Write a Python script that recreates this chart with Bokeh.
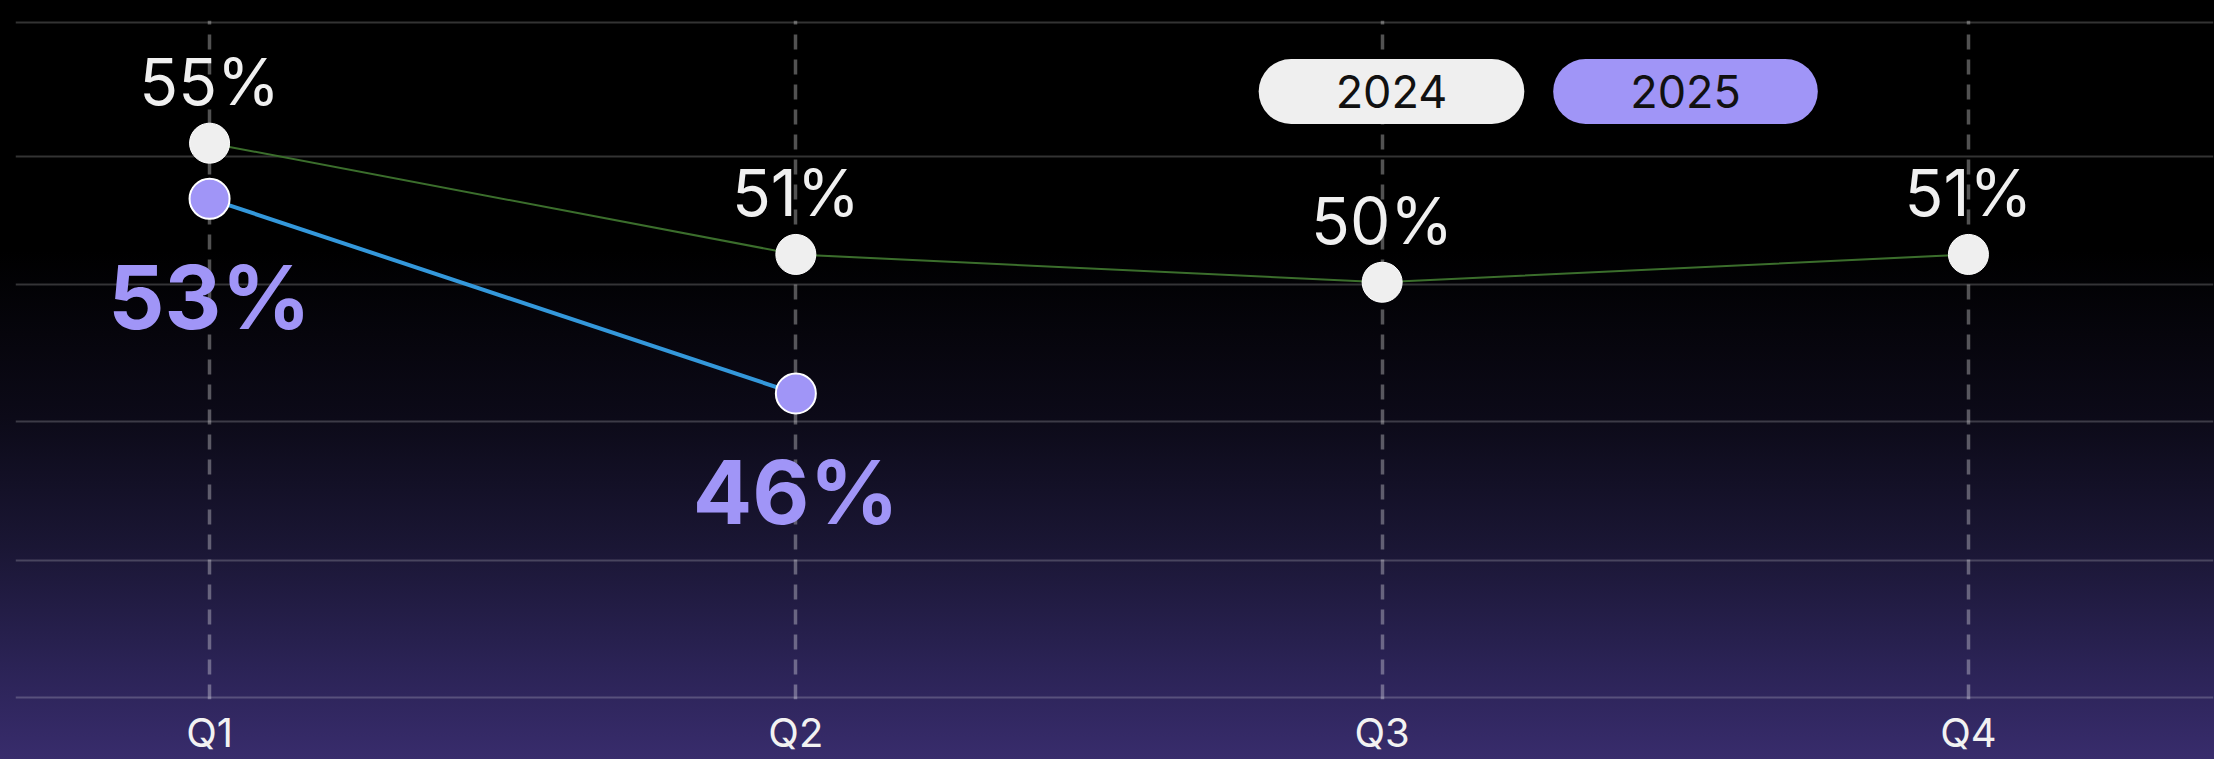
from bokeh.plotting import figure
from bokeh.models import Range1d, FixedTicker, Label
from bokeh.core.properties import value
from bokeh.embed import file_html
from bokeh.resources import INLINE

# ---- data ----
quarters = ["Q1", "Q2", "Q3", "Q4"]
series_2024 = [55, 51, 50, 51]
series_2025 = [53, 46]
labels_2024 = [f"{v}%" for v in series_2024]
labels_2025 = [f"{v}%" for v in series_2025]
grid_values = [35.06, 40.0, 44.98, 49.93, 54.52, 59.33]
legend_names = ["2024", "2025"]

x24 = list(range(len(series_2024)))
x25 = list(range(len(series_2025)))

WHITE = "#efefef"
PURPLE = "#a095f7"

gradient = ("linear-gradient(to bottom, #000000 0%, #000000 33%, #0c0a18 55%, "
            "#1a1634 72%, #2b2356 88%, #382c6c 100%)")

p = figure(width=2214, height=759, output_backend="svg", toolbar_location=None,
           x_range=Range1d(-0.331, 3.418), y_range=Range1d(35.0, 59.41),
           min_border_left=15, min_border_right=1, min_border_top=20,
           min_border_bottom=59,
           background_fill_color=None, border_fill_color=None,
           outline_line_color=None,
           styles={"position": "fixed", "top": "0px", "left": "0px",
                   "background": gradient})

p.yaxis.visible = False
p.ygrid.ticker = FixedTicker(ticks=grid_values)
p.ygrid.grid_line_color = "#ffffff"
p.ygrid.grid_line_alpha = 0.2
p.ygrid.grid_line_width = 2

p.xaxis.ticker = FixedTicker(ticks=x24)
p.xaxis.major_label_overrides = {i: q for i, q in enumerate(quarters)}
p.xaxis.major_label_text_font = "Inter"
p.xaxis.major_label_text_font_size = "40px"
p.xaxis.major_label_text_color = "#f2f2f2"
p.xaxis.axis_line_color = None
p.xaxis.major_tick_line_color = None
p.xaxis.minor_tick_line_color = None
p.xaxis.major_tick_out = 0
p.xaxis.major_tick_in = 0
p.xaxis.minor_tick_out = 0
p.xaxis.minor_tick_in = 0
p.xaxis.major_label_standoff = 8

p.xgrid.ticker = FixedTicker(ticks=x24)
p.xgrid.grid_line_color = "#ffffff"
p.xgrid.grid_line_alpha = 0.32
p.xgrid.grid_line_width = 3.5
p.xgrid.grid_line_dash = "15 10"

p.line(x24, series_2024, line_color="#3b6e2c", line_width=2)
p.line(x25, series_2025, line_color="#3498db", line_width=4)
p.scatter(x24, series_2024, size=40, fill_color=WHITE, line_color="#ffffff",
          line_width=1)
p.scatter(x25, series_2025, size=40, fill_color=PURPLE, line_color="#ffffff",
          line_width=2)

p.text(x=x24, y=series_2024, text=labels_2024, text_font=value("Inter"),
       text_font_size="64px", text_color="#f0f0f0", text_align="center",
       text_baseline="alphabetic", y_offset=-62)
p.text(x=x25, y=series_2025, text=labels_2025, text_font=value("Inter"),
       text_font_size="88px", text_font_style="bold", text_color=PURPLE,
       text_align="center", text_baseline="alphabetic", y_offset=98)

pill_fills = [WHITE, PURPLE]
pill_x = [1376, 1670]
for name, fill, px in zip(legend_names, pill_fills, pill_x):
    p.add_layout(Label(x=px, y=608, x_units="screen", y_units="screen",
                       text=name, text_align="center", text_baseline="middle",
                       text_font="Inter", text_font_size="45px",
                       text_color="#111111", background_fill_color=fill,
                       border_radius=33,
                       padding=dict(left=77, right=77, top=16, bottom=16)))

open("out.html", "w").write(file_html(p, INLINE))
